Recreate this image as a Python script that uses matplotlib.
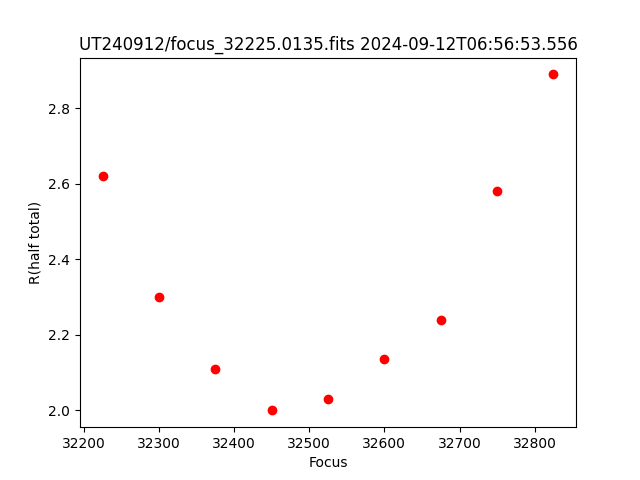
import matplotlib
matplotlib.use('Agg')
from matplotlib import pyplot as plt

focus = [32225, 32300, 32375, 32450, 32525, 32600, 32675, 32750, 32825]
r_half = [2.62, 2.30, 2.11, 2.00, 2.03, 2.135, 2.24, 2.58, 2.89]

fig = plt.figure(figsize=(6.4, 4.8), dpi=100)
plt.plot(focus, r_half, 'ro')
plt.xlabel('Focus')
plt.ylabel('R(half total)')
plt.title('UT240912/focus_32225.0135.fits 2024-09-12T06:56:53.556')
plt.savefig('out.png')
